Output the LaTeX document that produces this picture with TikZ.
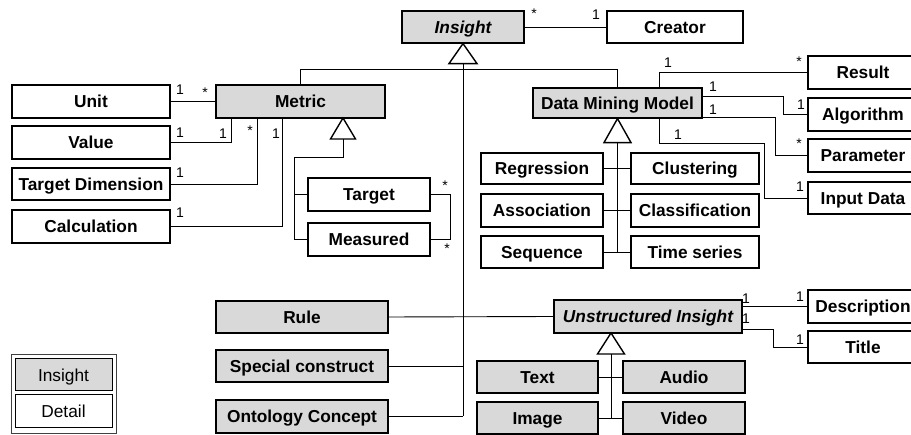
\documentclass[tikz,border=0pt]{standalone}
\usepackage{fontspec}
\setmainfont{Liberation Sans}
\definecolor{insfill}{HTML}{D9D9D9}
\newcommand\mkbox[7]{\node[#1,minimum width={(#4-#3)*1pt},minimum height={(#6-#5)*1pt}] (#2) at ({(#3+#4)/2},{(#5+#6)/2}) {#7};}
\begin{document}
\begin{tikzpicture}[x=1pt,y=-1pt,
  basebox/.style={draw=black, line width=1.2pt, inner sep=0pt, text height=12.4pt, text depth=0pt, font=\fontsize{17.3}{20}\selectfont\bfseries},
  ins/.style={basebox, fill=insfill},
  det/.style={basebox, fill=white},
  insit/.style={ins, font=\fontsize{17.3}{20}\selectfont\bfseries\itshape},
  legbox/.style={draw=black, line width=1pt, inner sep=0pt, text height=12.4pt, text depth=0pt, font=\fontsize{17.3}{20}\selectfont},
  conn/.style={line width=0.9pt},
  gen/.style={line width=1.4pt, fill=white, line join=miter},
  lab/.style={font=\fontsize{14}{16}\selectfont, inner sep=0pt}]
\clip (0,0) rectangle (911,435);
\fill[white] (0,0) rectangle (911,435);
% boxes
\mkbox{insit}{Insight}{402}{524}{11}{43}{Insight}
\mkbox{det}{Creator}{607}{743}{11}{43}{Creator}
\mkbox{ins}{Metric}{216}{385}{85}{118}{Metric}
\mkbox{det}{Unit}{12}{170}{85}{118}{Unit}
\mkbox{det}{Value}{12}{170}{126}{159}{Value}
\mkbox{det}{TD}{12}{170}{168}{200}{Target Dimension}
\mkbox{det}{Calc}{12}{170}{210}{243}{Calculation}
\mkbox{det}{Target}{308}{430}{178}{211}{Target}
\mkbox{det}{Measured}{308}{430}{223}{256}{Measured}
\mkbox{ins}{DMM}{533}{702}{88}{118}{Data Mining Model}
\mkbox{det}{Result}{808}{918}{56}{89}{Result}
\mkbox{det}{Algorithm}{808}{918}{98}{131}{Algorithm}
\mkbox{det}{Parameter}{808}{918}{139}{172}{Parameter}
\mkbox{det}{InputData}{808}{918}{182}{214}{Input Data}
\mkbox{det}{Regression}{481}{603}{153}{184}{Regression}
\mkbox{det}{Clustering}{631}{759}{153}{184}{Clustering}
\mkbox{det}{Association}{481}{603}{194}{227}{Association}
\mkbox{det}{Classification}{631}{759}{194}{227}{Classification}
\mkbox{det}{Sequence}{481}{603}{236}{268}{Sequence}
\mkbox{det}{TimeSeries}{631}{759}{236}{268}{Time series}
\mkbox{ins}{Rule}{216}{388}{301}{333}{Rule}
\mkbox{ins}{Special}{216}{388}{350}{382}{Special construct}
\mkbox{ins}{Onto}{216}{388}{400}{433}{Ontology Concept}
\mkbox{insit}{UI}{554}{742}{300}{333}{Unstructured Insight}
\mkbox{det}{Description}{808}{918}{290}{323}{Description}
\mkbox{det}{Title}{808}{918}{331}{363}{Title}
\mkbox{ins}{Text}{477}{598}{361}{393}{Text}
\mkbox{ins}{Audio}{623}{745}{361}{393}{Audio}
\mkbox{ins}{Image}{477}{598}{402}{434}{Image}
\mkbox{ins}{Video}{623}{745}{402}{434}{Video}
% legend
\node[draw=black!75, line width=0.9pt, minimum width=105pt, minimum height=79pt, inner sep=0pt] (Legend) at (63.5,393.5) {};
\mkbox{legbox,fill=insfill}{LegIns}{15}{112}{359}{391}{Insight}
\mkbox{legbox,fill=white}{LegDet}{15}{112}{395}{428}{Detail}
% Insight hierarchy
\draw[conn] (Insight.east) -- (Creator.west);
\draw[conn] (Insight.south) ++(0,20) -- (Insight.south |- Onto.east);
\draw[conn] (Metric.north) -- ++(0,-15) -| (DMM.north);
\draw[conn] (Rule.east) -- (UI.west);
\draw[conn] (Special.east) -- (Special.east -| Insight.south);
\draw[conn] (Onto.east) -- (Onto.east -| Insight.south);
\draw[gen] (Insight.south) -- ++(14,20) -- ++(-28,0) -- cycle;
% Metric
\draw[conn] (Unit.east) -- (Metric.west);
\draw[conn] (Value.east) -| ([xshift=16pt]Metric.south west);
\draw[conn] (TD.east) -| ([xshift=42pt]Metric.south west);
\draw[conn] (Calc.east) -| ([xshift=67pt]Metric.south west);
\coordinate (mt) at (343,118);
\coordinate (mj) at (294,157);
\draw[conn] (mt) ++(0,21) -- (mt |- mj) -- (mj) |- (Measured.west);
\draw[conn] (mj |- Target.west) -- (Target.west);
\draw[conn] (Target.east) -- ++(20,0) |- (Measured.east);
\draw[gen] (mt) -- ++(12.5,21) -- ++(-25,0) -- cycle;
% DMM
\draw[conn] (DMM.south) ++(0,24) -- (DMM.south |- Sequence.east);
\draw[conn] (Regression.east) -- (Clustering.west);
\draw[conn] (Association.east) -- (Classification.west);
\draw[conn] (Sequence.east) -- (TimeSeries.west);
\draw[gen] (DMM.south) -- ++(13.5,24) -- ++(-27,0) -- cycle;
\draw[conn] ([xshift=127pt]DMM.north west) |- (Result.west);
\draw[conn] (DMM.north east) ++(0,9) -- ++(81,0) |- (Algorithm.west);
\draw[conn] (DMM.south east) ++(0,-1) -- ++(73,0) |- (Parameter.west);
\draw[conn] ([xshift=127pt]DMM.south west) -- ++(0,25) -- ++(105,0) |- (InputData.west);
% Unstructured
\draw[conn] (UI.east |- Description.west) -- (Description.west);
\draw[conn] (UI.east) ++(0,12.5) -- ++(31,0) |- (Title.west);
\coordinate (ut) at (611,333);
\draw[conn] (ut) ++(0,21) -- (ut |- Image.east);
\draw[conn] (Text.east) -- (Audio.west);
\draw[conn] (Image.east) -- (Video.west);
\draw[gen] (ut) -- ++(13.5,21) -- ++(-27,0) -- cycle;
% multiplicities
\node[lab, anchor=north] (m1) at (534,9) {*};
\node[lab] (m2) at (596,15) {1};
\node[lab] (m3) at (180,90) {1};
\node[lab, anchor=north] (m4) at (205,88) {*};
\node[lab] (m5) at (180,133) {1};
\node[lab] (m6) at (223,134) {1};
\node[lab, anchor=north] (m7) at (250,126) {*};
\node[lab] (m8) at (276,134) {1};
\node[lab] (m9) at (180,173) {1};
\node[lab] (m10) at (180,213) {1};
\node[lab, anchor=north] (m11) at (445,181) {*};
\node[lab, anchor=north] (m12) at (447,244) {*};
\node[lab] (m13) at (668,63) {1};
\node[lab, anchor=north] (m14) at (799,57) {*};
\node[lab] (m15) at (713,87) {1};
\node[lab] (m16) at (801,105) {1};
\node[lab] (m17) at (713,110) {1};
\node[lab, anchor=north] (m18) at (799,139) {*};
\node[lab] (m19) at (678,135) {1};
\node[lab] (m20) at (800,187) {1};
\node[lab] (m21) at (746,299) {1};
\node[lab] (m22) at (746,319) {1};
\node[lab] (m23) at (800,297) {1};
\node[lab] (m24) at (800,340) {1};
\end{tikzpicture}
\end{document}
